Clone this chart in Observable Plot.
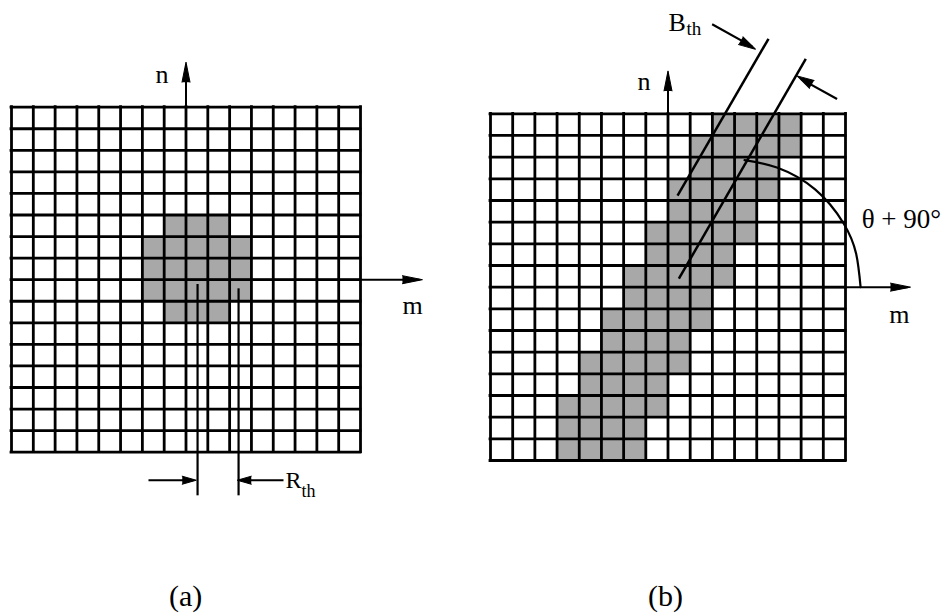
<!DOCTYPE html>
<html>
<head>
<meta charset="utf-8">
<script src="https://cdn.jsdelivr.net/npm/d3@7"></script>
<script src="https://cdn.jsdelivr.net/npm/@observablehq/plot@0.6"></script>
<style>
  body { margin: 0; background: #fff; }
  #fig { display: flex; width: 946px; height: 613px; }
  #fig svg { display: block; }
</style>
</head>
<body>
<div id="fig"></div>
<script>
// ---- Grid (both panels: 16 x 16 cells, axes origin at the centre grid line) ----
const gridLines = [-8, -7, -6, -5, -4, -3, -2, -1, 0, 1, 2, 3, 4, 5, 6, 7, 8];

// ---- Panel (a): shaded disc, per grid row (0 = top row), first/last shaded column (0 = left) ----
const discRows  = [5, 6, 7, 8, 9];
const discFirst = [7, 6, 6, 6, 7];
const discLast  = [9, 10, 10, 10, 9];

// ---- Panel (b): shaded band ----
const bandRows  = [0, 1, 2, 3, 4, 5, 6, 7, 8, 9, 10, 11, 12, 13, 14, 15];
const bandFirst = [10, 9, 9, 8, 8, 7, 7, 6, 6, 5, 5, 4, 4, 3, 3, 3];
const bandLast  = [13, 13, 12, 12, 11, 11, 10, 10, 9, 9, 8, 8, 7, 7, 6, 6];

// ---- Panel (a) annotations (in m, n grid units) ----
const aAxisLines  = [{x1: 0, y1: 0, x2: 0, y2: 10.0}, {x1: 0, y1: 0, x2: 10.7, y2: 0}];
const aAxisHeads  = [{x: 0, y: 10.09, rotate: 0}, {x: 10.84, y: 0, rotate: 90}];
const aRthLines   = [{x1: 0.53, y1: -0.2, x2: 0.53, y2: -10.0}, {x1: 2.41, y1: -0.4, x2: 2.41, y2: -10.0}];
const aRthArrows  = [{x1: -1.72, y1: -9.3, x2: 0.3, y2: -9.3}, {x1: 4.47, y1: -9.3, x2: 2.5, y2: -9.3}];
const aRthHeads   = [{x: 0.47, y: -9.3, rotate: 90}, {x: 2.35, y: -9.3, rotate: -90}];
const aLabels     = [{x: -1.1, y: 9.5, text: "n"}, {x: 10.39, y: -1.2, text: "m"}];
const aRth        = [{x: 4.56, y: -9.3}];
const aCaption    = [{x: -0.02, y: -14.68, text: "(a)"}];

// ---- Panel (b) annotations ----
const bAxisLines  = [{x1: 0, y1: 0, x2: 0, y2: 9.9}, {x1: 0, y1: 0, x2: 10.8, y2: 0}];
const bAxisHeads  = [{x: 0, y: 9.98, rotate: 0}, {x: 10.93, y: 0, rotate: 90}];
const bBthLines   = [{x1: 0.43, y1: 4.22, x2: 4.53, y2: 11.46}, {x1: 0.49, y1: 0.39, x2: 6.21, y2: 10.53}];
const bBthArrows  = [{x1: 1.99, y1: 12.13, x2: 3.8, y2: 11.1}, {x1: 7.62, y1: 8.68, x2: 6.0, y2: 9.6}];
const bBthHeads   = [{x: 3.94, y: 10.98, rotate: 120}, {x: 5.82, y: 9.75, rotate: -60}];
const bArcM       = [3.45, 4.91, 6.63, 7.91, 8.48, 8.68];
const bArcN       = [5.86, 5.52, 4.51, 2.95, 1.54, 0.0];
const bLabels     = [{x: -1.08, y: 9.5, text: "n"}, {x: 10.43, y: -1.25, text: "m"}];
const bAngle      = [{x: 10.52, y: 3.11, text: "θ + 90°"}];
const bBth        = [{x: 0.02, y: 12.2}];
const bCaption    = [{x: -0.11, y: -14.27, text: "(b)"}];

const SHADE = "#a8a8a8";
const FONT = "'Liberation Serif', 'Times New Roman', serif";

function cells(rows, first, last) {
  const out = [];
  rows.forEach((r, i) => {
    for (let c = first[i]; c <= last[i]; c++) out.push({x1: c - 8, x2: c - 7, y1: 7 - r, y2: 8 - r});
  });
  return out;
}

function gridMarks(shaded) {
  return [
    Plot.rect(shaded, {x1: "x1", x2: "x2", y1: "y1", y2: "y2", fill: SHADE}),
    Plot.ruleX(gridLines, {y1: -8, y2: 8, stroke: "#000", strokeWidth: 2.8, strokeLinecap: "square"}),
    Plot.ruleY(gridLines, {x1: -8, x2: 8, stroke: "#000", strokeWidth: 2.8, strokeLinecap: "square"})
  ];
}

function segs(data, w) {
  return Plot.link(data, {x1: "x1", y1: "y1", x2: "x2", y2: "y2", stroke: "#000", strokeWidth: w});
}
function heads(data, len, r) {
  return Plot.vector(data, {x: "x", y: "y", rotate: "rotate", length: len, r, shape: "spike",
    anchor: "end", fill: "#000", stroke: "#000", strokeWidth: 1});
}

function panel(xRange, yRange, marks) {
  return Plot.plot({
    width: 473, height: 613,
    x: {domain: [-8, 8], range: xRange, axis: null},
    y: {domain: [-8, 8], range: yRange, axis: null},
    style: {fontFamily: FONT, background: "#fff", overflow: "visible"},
    marks
  });
}

const left = panel([11, 360], [451.7, 106.7], [
  ...gridMarks(cells(discRows, discFirst, discLast)),
  segs(aAxisLines, 2),
  heads(aAxisHeads, 20, 4),
  segs(aRthLines, 2.2),
  segs(aRthArrows, 2),
  heads(aRthHeads, 14, 4),
  Plot.text(aLabels, {x: "x", y: "y", text: "text", fontSize: 26, fill: "#000"}),
  Plot.text(aRth, {x: "x", y: "y", text: () => "R", fontSize: 24, textAnchor: "start", fill: "#000"}),
  Plot.text(aRth, {x: "x", y: "y", text: () => "th", fontSize: 18, textAnchor: "start", dx: 16, dy: 11, fill: "#000"}),
  Plot.text(aCaption, {x: "x", y: "y", text: "text", fontSize: 30, fill: "#000"})
]);

const right = panel([17, 372], [460, 113.3], [
  ...gridMarks(cells(bandRows, bandFirst, bandLast)),
  segs(bAxisLines, 2),
  heads(bAxisHeads, 20, 4),
  segs(bBthLines, 2.5),
  segs(bBthArrows, 2.2),
  heads(bBthHeads, 17, 4.5),
  Plot.line(bArcM.map((m, i) => ({m, n: bArcN[i]})), {x: "m", y: "n", curve: "natural", stroke: "#000", strokeWidth: 2.2}),
  Plot.text(bLabels, {x: "x", y: "y", text: "text", fontSize: 26, fill: "#000"}),
  Plot.text(bAngle, {x: "x", y: "y", text: "text", fontSize: 27, fill: "#000"}),
  Plot.text(bBth, {x: "x", y: "y", text: () => "B", fontSize: 26, textAnchor: "start", fill: "#000"}),
  Plot.text(bBth, {x: "x", y: "y", text: () => "th", fontSize: 19, textAnchor: "start", dx: 18, dy: 6, fill: "#000"}),
  Plot.text(bCaption, {x: "x", y: "y", text: "text", fontSize: 30, fill: "#000"})
]);

document.getElementById("fig").append(left, right);
</script>
</body>
</html>
